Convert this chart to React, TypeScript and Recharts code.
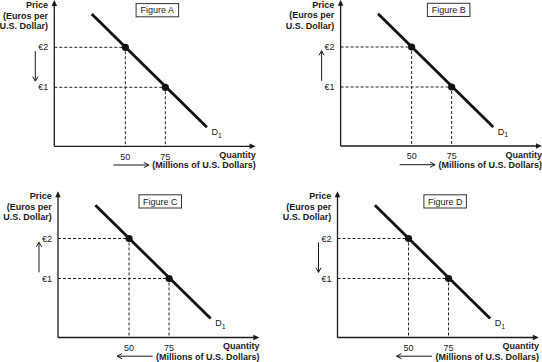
import React from 'react';
import { ComposedChart, Line, Scatter, XAxis, YAxis, ReferenceDot } from 'recharts';

// ---- data ----
const figureNames = ['Figure A', 'Figure B', 'Figure C', 'Figure D'];
const priceArrowDirection = ['down', 'up', 'up', 'down'];
const quantityArrowDirection = ['right', 'right', 'left', 'left'];
const priceTickValues = [1, 2];
const priceTickLabels = ['€1', '€2'];
const quantityTickValues = [50, 75];
const quantityTickLabels = ['50', '75'];
const demandQuantity = [29, 101];
const demandPrice = [2.83, 0];
const pointQuantity = [50, 75];
const pointPrice = [2, 1];
const quantityDomain = [5.6, 128];
const priceDomain = [-0.475, 3.08];
const priceAxisLines = ['Price', '(Euros per', 'U.S. Dollar)'];
const quantityAxisLines = ['Quantity', '(Millions of U.S. Dollars)'];
const curveName = 'D';
const curveSubscript = '1';

// ---- layout ----
const FONT = '"Liberation Sans", Arial, Helvetica, sans-serif';
const INK = '#1a1a1a';
const PLOT_W = (quantityDomain[1] - quantityDomain[0]) * 1.6;
const PLOT_H = (priceDomain[1] - priceDomain[0]) * 40;
const PANEL_W = 271;
const PANEL_H = 181;
const AXIS_T = 1;
const panels = [
  { left: 0, top: 0, ml: 54.3, mt: 4.1, boxDx: 81.8 },
  { left: 271, top: 0, ml: 69.6, mt: 3.8, boxDx: 86.8 },
  { left: 0, top: 181, ml: 58, mt: 14.3, boxDx: 81 },
  { left: 271, top: 181, ml: 66.5, mt: 14.3, boxDx: 86.4 },
];

const demandData = demandQuantity.map((q, i) => ({ q, p: demandPrice[i] }));
const pointData = pointQuantity.map((q, i) => ({ q, p: pointPrice[i] }));
const guideData = pointQuantity.map((q, i) => [
  { q: quantityDomain[0], p: pointPrice[i] },
  { q, p: pointPrice[i] },
  { q, p: priceDomain[0] },
]);

function TopLeftDecor({ cx, cy, idx }: { cx: number; cy: number; idx: number }) {
  const ax = cx - 19;
  const y1 = cy + 47;
  const y2 = cy + 77;
  const down = priceArrowDirection[idx] === 'down';
  const tip = down ? y2 : y1;
  const back = down ? tip - 4.5 : tip + 4.5;
  const bx = cx + panels[idx].boxDx;
  return (
    <g>
      <polygon points={`${cx},${cy - 4} ${cx - 2.8},${cy + 2} ${cx + 2.8},${cy + 2}`} fill={INK} />
      {priceAxisLines.map((t, k) => (
        <text
          key={k}
          x={cx - 6.3}
          y={cy + [3.8, 14.4, 24.7][k]}
          textAnchor="end"
          fontFamily={FONT}
          fontSize={9}
          fontWeight="bold"
          fill={INK}
        >
          {t}
        </text>
      ))}
      <line x1={ax} y1={y1} x2={ax} y2={y2} stroke={INK} strokeWidth={1} />
      <path d={`M${ax - 2.6},${back} L${ax},${tip} L${ax + 2.6},${back}`} fill="none" stroke={INK} strokeWidth={1} />
      <rect x={bx} y={cy - 0.5} width={42.5} height={13.2} fill="#fff" stroke="#333" strokeWidth={1} />
      <text x={bx + 21.25} y={cy + 9.3} textAnchor="middle" fontFamily={FONT} fontSize={9} fill={INK}>
        {figureNames[idx]}
      </text>
    </g>
  );
}

function BottomRightDecor({ cx, cy, idx }: { cx: number; cy: number; idx: number }) {
  const x1 = cx - 136.8;
  const x2 = cx - 101.3;
  const ay = cy + 18.7;
  const right = quantityArrowDirection[idx] === 'right';
  const tip = right ? x2 : x1;
  const back = right ? tip - 5 : tip + 5;
  return (
    <g>
      <polygon points={`${cx + 5.5},${cy} ${cx - 0.5},${cy - 2.8} ${cx - 0.5},${cy + 2.8}`} fill={INK} />
      {quantityAxisLines.map((t, k) => (
        <text
          key={k}
          x={cx + 5.7}
          y={cy + [11.8, 22][k]}
          textAnchor="end"
          fontFamily={FONT}
          fontSize={9}
          fontWeight="bold"
          fill={INK}
        >
          {t}
        </text>
      ))}
      <line x1={x1} y1={ay} x2={x2} y2={ay} stroke={INK} strokeWidth={1} />
      <path d={`M${back},${ay - 2.6} L${tip},${ay} L${back},${ay + 2.6}`} fill="none" stroke={INK} strokeWidth={1} />
    </g>
  );
}

function CurveLabel({ cx, cy }: { cx: number; cy: number }) {
  return (
    <text x={cx + 4.5} y={cy + 7.5} fontFamily={FONT} fontSize={9} fill={INK}>
      <tspan>{curveName}</tspan>
      <tspan dy={2.8} fontSize={7}>
        {curveSubscript}
      </tspan>
    </text>
  );
}

function Panel({ idx }: { idx: number }) {
  const p = panels[idx];
  const margin = {
    left: p.ml - AXIS_T,
    top: p.mt,
    right: PANEL_W - p.ml - PLOT_W,
    bottom: PANEL_H - p.mt - PLOT_H - AXIS_T,
  };
  return (
    <div style={{ position: 'absolute', left: p.left, top: p.top, width: PANEL_W, height: PANEL_H }}>
      <ComposedChart width={PANEL_W} height={PANEL_H} margin={margin}>
        <XAxis
          type="number"
          dataKey="q"
          domain={quantityDomain}
          allowDataOverflow
          ticks={quantityTickValues}
          interval={0}
          tickFormatter={(v: number) => quantityTickLabels[quantityTickValues.indexOf(v)]}
          tickLine={false}
          tickSize={5}
          height={AXIS_T}
          axisLine={{ stroke: INK, strokeWidth: 1.3 }}
          tick={{ fontSize: 9, fill: INK, fontFamily: FONT }}
        />
        <YAxis
          type="number"
          dataKey="p"
          domain={priceDomain}
          allowDataOverflow
          ticks={priceTickValues}
          interval={0}
          tickFormatter={(v: number) => priceTickLabels[priceTickValues.indexOf(v)]}
          tickLine={false}
          tickSize={4}
          width={AXIS_T}
          axisLine={{ stroke: INK, strokeWidth: 1.3 }}
          tick={{ fontSize: 9, fill: INK, fontFamily: FONT }}
        />
        {guideData.map((g, k) => (
          <Line
            key={`g${k}`}
            data={g}
            dataKey="p"
            type="linear"
            stroke="#222"
            strokeWidth={1}
            strokeDasharray="3 2"
            dot={false}
            activeDot={false}
            isAnimationActive={false}
          />
        ))}
        <Line
          data={demandData}
          dataKey="p"
          type="linear"
          stroke="#111"
          strokeWidth={2.8}
          dot={false}
          activeDot={false}
          isAnimationActive={false}
        />
        <Scatter
          data={pointData}
          dataKey="p"
          fill="#111"
          isAnimationActive={false}
          shape={(s: any) => <circle cx={s.cx} cy={s.cy} r={3.6} fill="#111" />}
        />
        <ReferenceDot
          x={quantityDomain[0]}
          y={priceDomain[1]}
          r={0}
          ifOverflow="visible"
          shape={(s: any) => <TopLeftDecor cx={s.cx} cy={s.cy} idx={idx} />}
        />
        <ReferenceDot
          x={quantityDomain[1]}
          y={priceDomain[0]}
          r={0}
          ifOverflow="visible"
          shape={(s: any) => <BottomRightDecor cx={s.cx} cy={s.cy} idx={idx} />}
        />
        <ReferenceDot
          x={demandQuantity[1]}
          y={demandPrice[1]}
          r={0}
          ifOverflow="visible"
          shape={(s: any) => <CurveLabel cx={s.cx} cy={s.cy} />}
        />
      </ComposedChart>
    </div>
  );
}

export default function App() {
  return (
    <div style={{ position: 'absolute', left: 0, top: 0, width: 542, height: 362, background: '#fff', overflow: 'hidden' }}>
      {panels.map((_, i) => (
        <Panel key={i} idx={i} />
      ))}
    </div>
  );
}
